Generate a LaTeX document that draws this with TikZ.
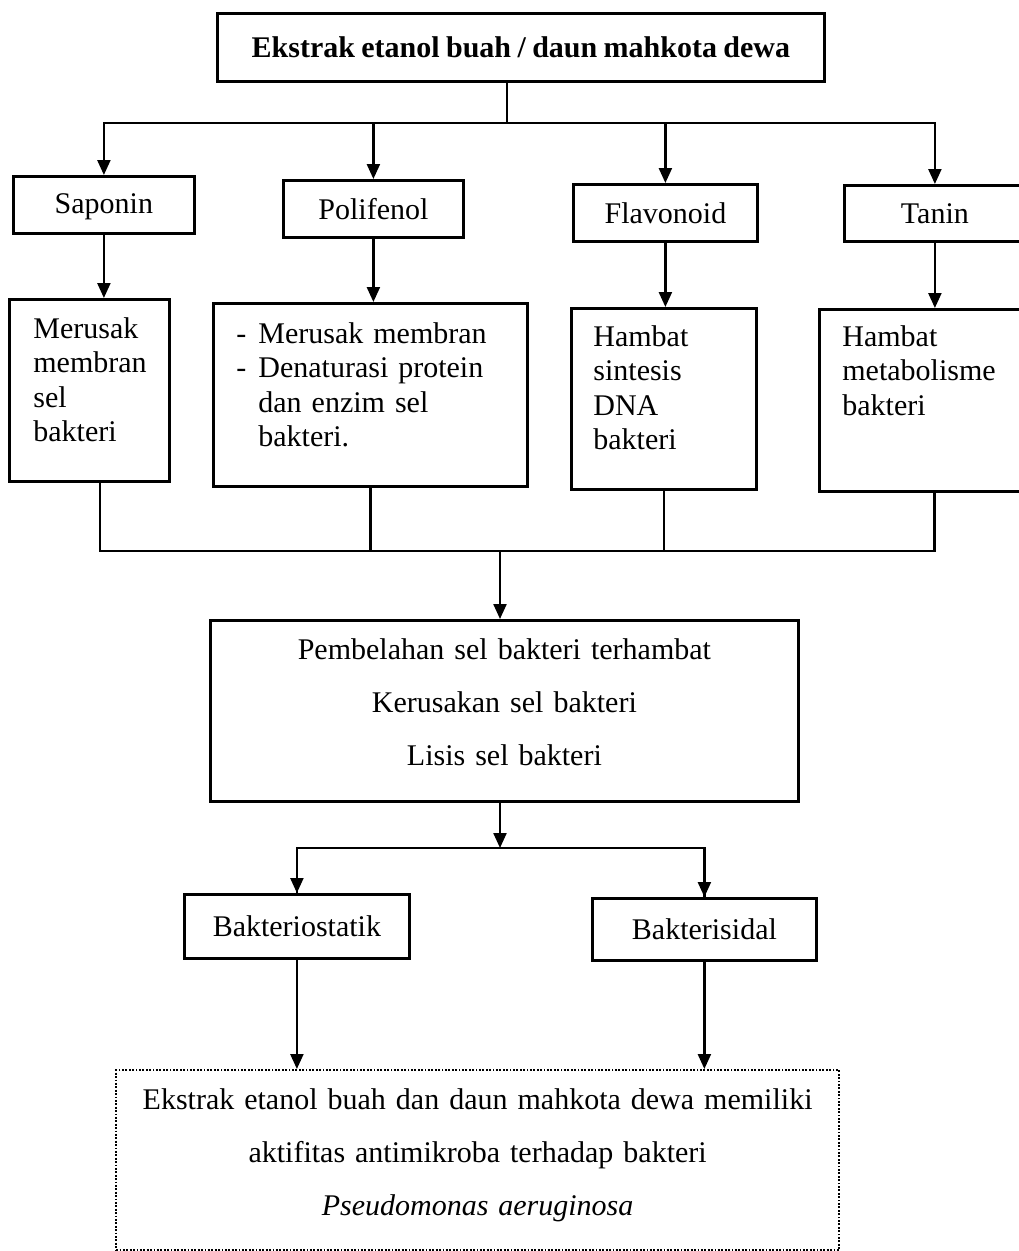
\documentclass[tikz,border=0pt]{standalone}
\usepackage{fontspec}
\setmainfont{Liberation Serif}[WordSpace=0.85]
\usetikzlibrary{arrows.meta}

\tikzset{
  frame/.style={draw, line width=2.8pt, inner sep=0pt, anchor=north west,
                font=\fontsize{30}{34.3}\selectfont},
  namebox/.style={frame, align=center},
  notebox/.style={frame, align=left},
  wide/.style={frame, align=center, font=\fontsize{30}{53}\selectfont},
  conn/.style={line width=2.3pt},
  arr/.style={conn, -{Triangle[width=13pt,length=15pt]}}
}

\begin{document}
\begin{tikzpicture}[x=1pt, y=-1pt]
  \useasboundingbox (0,0) rectangle (1018,1251);

  % source extract
  \node[namebox, font=\fontsize{30}{34.3}\selectfont\bfseries,
        minimum width=607pt, minimum height=68pt] (top) at (216,12)
        {Ekstrak etanol buah / daun mahkota dewa};

  % compound classes
  \node[namebox, minimum width=181pt, minimum height=57pt, text depth=3pt] (sap) at (12,175) {Saponin};
  \node[namebox, minimum width=180pt, minimum height=57pt] (pol) at (282,179) {Polifenol};
  \node[namebox, minimum width=184pt, minimum height=57pt] (fla) at (572,183) {Flavonoid};
  \node[namebox, minimum width=181pt, minimum height=56pt] (tan) at (843,184) {Tanin};

  % mechanisms
  \node[notebox, inner xsep=24pt, text width=112pt, text height=39pt, text depth=143pt]
        (sdet) at (8,298) {Merusak\\membran\\sel\\bakteri};
  \node[notebox, inner xsep=23pt, text width=268pt, text height=40pt, text depth=143pt]
        (pdet) at (212,302)
        {\makebox[22pt][l]{-}Merusak membran\\
         \makebox[22pt][l]{-}Denaturasi protein\\
         \hspace*{22pt}dan enzim sel\\
         \hspace*{22pt}bakteri.};
  \node[notebox, inner xsep=22pt, text width=141pt, text height=38pt, text depth=143pt]
        (fdet) at (570,307) {Hambat\\sintesis\\DNA\\bakteri};
  \node[notebox, inner xsep=23pt, text width=184pt, text height=37pt, text depth=145pt]
        (tdet) at (818,308) {Hambat\\metabolisme\\bakteri};

  % combined effect
  \node[wide, inner xsep=10pt, text width=568pt, text height=39pt, text depth=142pt]
        (mid) at (209,619)
        {Pembelahan sel bakteri terhambat\\Kerusakan sel bakteri\\Lisis sel bakteri};

  % activity type
  \node[namebox, minimum width=225pt, minimum height=64pt] (bs) at (183,893) {Bakteriostatik};
  \node[namebox, minimum width=224pt, minimum height=62pt] (bc) at (591,897) {Bakterisidal};

  % conclusion
  \node[wide, dash pattern=on 1.8pt off 1.6pt, line width=2.2pt,
        inner xsep=10pt, text width=703pt, text height=39pt, text depth=141pt]
        (fin) at (115,1069)
        {Ekstrak etanol buah dan daun mahkota dewa memiliki\\
         aktifitas antimikroba terhadap bakteri\\
         \textit{Pseudomonas aeruginosa}};

  % junction points
  \coordinate (j0) at (507,123);
  \coordinate (j1) at (500,551);
  \coordinate (m1) at (100,551);
  \coordinate (j2) at (500,848);

  % extract -> compounds
  \draw[conn] (j0 |- top.south) -- (j0);
  \draw[arr] (j0) -| (sap.north);
  \draw[arr] (j0) -| (tan.north);
  \draw[arr] (j0 -| pol.north) -- (pol.north);
  \draw[arr] (j0 -| fla.north) -- (fla.north);

  % compounds -> mechanisms
  \draw[arr] (sap.south) -- (sap.south |- sdet.north);
  \draw[arr] (pol.south) -- (pol.south |- pdet.north);
  \draw[arr] (fla.south) -- (fla.south |- fdet.north);
  \draw[arr] (tan.south) -- (tan.south |- tdet.north);

  % mechanisms -> combined effect
  \draw[conn] (m1 |- sdet.south) -- (m1) -- (m1 -| tdet.south) -- (tdet.south);
  \draw[conn] (pdet.south) -- (pdet.south |- m1);
  \draw[conn] (fdet.south) -- (fdet.south |- m1);
  \draw[arr] (j1) -- (j1 |- mid.north);

  % combined effect -> activity type
  \draw[arr] (j2 |- mid.south) -- (j2);
  \draw[conn] (j2) -| (bs.north);
  \draw[conn] (j2) -| (bc.north);
  \draw[arr] (j2 -| bs.north) -- (bs.north);
  \draw[arr] (j2 -| bc.north) -- (bc.north);

  % activity type -> conclusion
  \draw[arr] (bs.south) -- (bs.south |- fin.north);
  \draw[arr] (bc.south) -- (bc.south |- fin.north);
\end{tikzpicture}
\end{document}
